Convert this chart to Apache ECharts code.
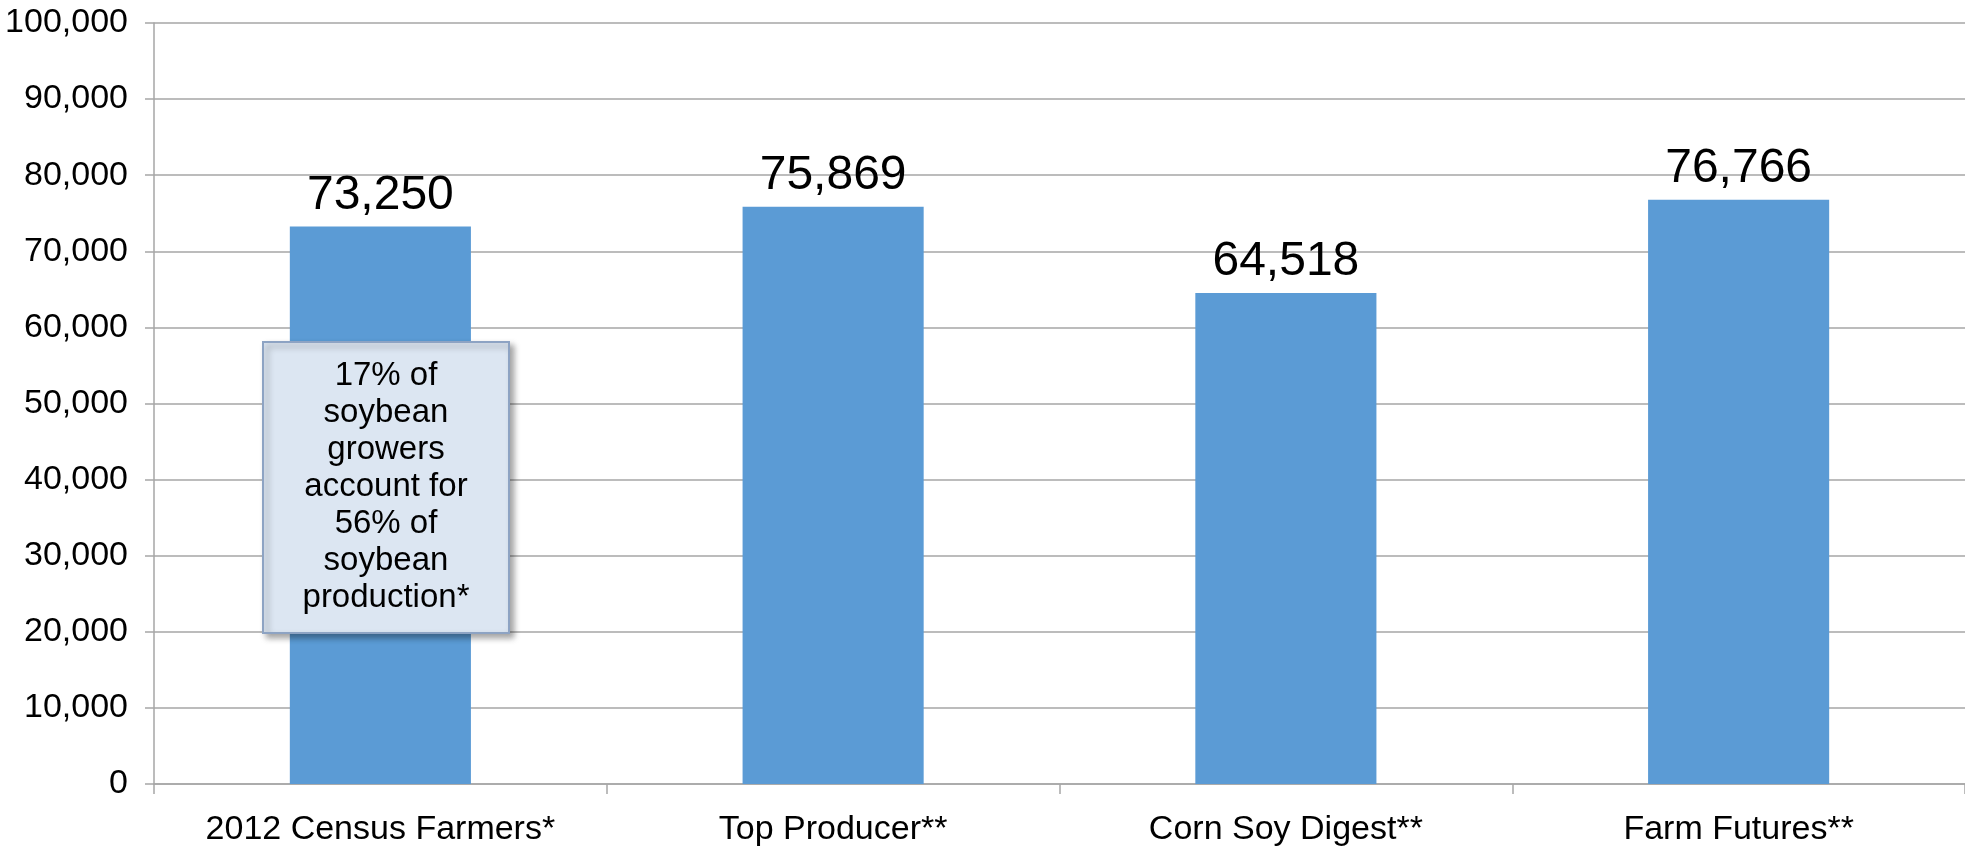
<!DOCTYPE html>
<html>
<head>
<meta charset="utf-8">
<script src="https://cdn.jsdelivr.net/npm/echarts@6/dist/echarts.min.js"></script>
<style>
html,body{margin:0;padding:0;background:#fff;}
#chart{width:1965px;height:849px;}
</style>
</head>
<body>
<div id="chart"></div>
<script>
const categories = ['2012 Census Farmers*', 'Top Producer**', 'Corn Soy Digest**', 'Farm Futures**'];
const values = [73250, 75869, 64518, 76766];
const noteLines = ['17% of', 'soybean', 'growers', 'account for', '56% of', 'soybean', 'production*'];

const FONT = '"Liberation Sans", Arial, sans-serif';
const chart = echarts.init(document.getElementById('chart'));
chart.setOption({
  animation: false,
  backgroundColor: '#ffffff',
  grid: { left: 154, right: -13, top: 23, bottom: 65, containLabel: false },
  xAxis: {
    type: 'category',
    data: categories,
    axisLine: { show: true, lineStyle: { color: '#a6a6a6', width: 1.5 } },
    axisTick: { show: true, interval: 0, alignWithLabel: false, length: 10, lineStyle: { color: '#a6a6a6', width: 1.5 } },
    axisLabel: { interval: 0, hideOverlap: false, color: '#000', fontFamily: FONT, fontSize: 34, margin: 29 },
    splitLine: { show: false }
  },
  yAxis: {
    type: 'value',
    min: 0, max: 100000, interval: 10000,
    axisLine: { show: true, lineStyle: { color: '#a6a6a6', width: 1.5 } },
    axisTick: { show: true, length: 9, lineStyle: { color: '#a6a6a6', width: 1.5 } },
    axisLabel: {
      color: '#000', fontFamily: FONT, fontSize: 34, margin: 26,
      formatter: v => v.toLocaleString('en-US')
    },
    splitLine: { show: true, lineStyle: { color: '#a6a6a6', width: 1.5 } }
  },
  series: [{
    type: 'bar',
    data: values,
    barWidth: '40%',
    itemStyle: { color: '#5b9bd5' },
    label: {
      show: true, position: 'top', distance: 7,
      color: '#000', fontFamily: FONT, fontSize: 48,
      formatter: p => p.value.toLocaleString('en-US')
    }
  }],
  graphic: [
    {
      type: 'rect',
      shape: { x: 263, y: 342, width: 246, height: 291 },
      style: {
        fill: '#dce6f2', stroke: '#8da3c3', lineWidth: 2,
        shadowBlur: 6, shadowOffsetX: 4, shadowOffsetY: 4, shadowColor: 'rgba(0,0,0,0.35)'
      },
      z: 100
    },
    {
      type: 'text',
      x: 386, y: 487,
      style: {
        text: noteLines.join('\n'),
        fill: '#000', font: '33px ' + FONT,
        align: 'center', verticalAlign: 'middle', lineHeight: 37
      },
      z: 101
    }
  ]
});
</script>
</body>
</html>
